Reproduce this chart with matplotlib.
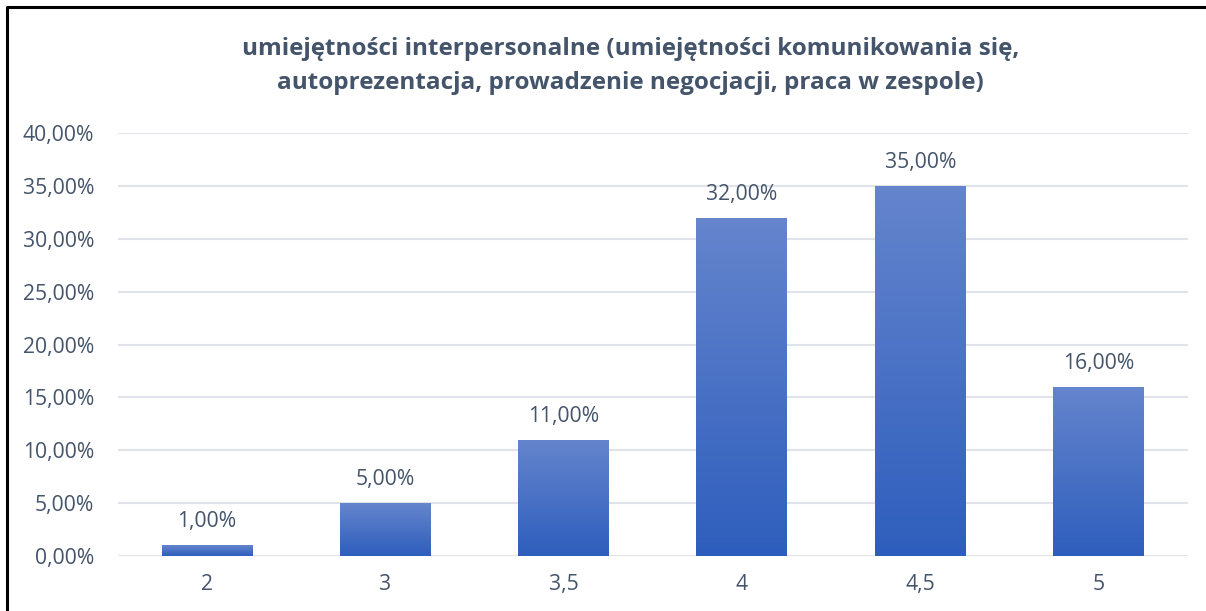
import numpy as np
import matplotlib.pyplot as plt
from matplotlib.colors import LinearSegmentedColormap
from matplotlib.lines import Line2D

categories = ["2", "3", "3,5", "4", "4,5", "5"]
values = [1.0, 5.0, 11.0, 32.0, 35.0, 16.0]
yticks = [0, 5, 10, 15, 20, 25, 30, 35, 40]
title = ("umiejętności interpersonalne (umiejętności komunikowania się,\n"
         "autoprezentacja, prowadzenie negocjacji, praca w zespole)")

txt = "#44546A"
plt.rcParams['font.family'] = ['Open Sans', 'DejaVu Sans']

fig = plt.figure(figsize=(12.06, 6.11), dpi=100)
ax = fig.add_axes([0.0978, 0.090, 0.887, 0.6923])

x = np.arange(len(categories))
bars = ax.bar(x, values, width=0.51, color="none", edgecolor="none", zorder=3)

grad = LinearSegmentedColormap.from_list("g", ["#2E5EBD", "#6585CD"])
img = np.linspace(0, 1, 256).reshape(-1, 1)
for b in bars:
    x0, y0 = b.get_x(), b.get_y()
    w, h = b.get_width(), b.get_height()
    im = ax.imshow(img, cmap=grad, origin="lower", aspect="auto",
                   extent=[x0, x0 + w, y0, y0 + h], zorder=3)
    im.set_clip_path(b)

for xi, v in zip(x, values):
    ax.annotate(f"{v:.2f}%".replace(".", ","), (xi, v), xytext=(0, 17),
                textcoords="offset points", ha="center", va="center",
                fontsize=15.2, color=txt)

ax.set_xlim(-0.5, len(categories) - 0.5)
ax.set_ylim(0, 40)
ax.set_yticks(yticks)
ax.set_yticklabels([f"{t:.2f}%".replace(".", ",") for t in yticks])
ax.set_xticks(x)
ax.set_xticklabels(categories)
ax.tick_params(length=0, labelsize=15.2, labelcolor=txt)
ax.tick_params(axis="y", pad=17)
ax.tick_params(axis="x", pad=13)
ax.yaxis.grid(True, color="#E0E4EA", linewidth=1.5, zorder=0)
ax.set_axisbelow(True)
for s in ax.spines.values():
    s.set_visible(False)

fig.text(0.523, 0.892, title, ha="center", va="center", fontsize=17.5,
         fontweight="bold", color=txt, linespacing=1.55)

# chart frame (left and top edges visible)
fig.add_artist(Line2D([0.0062, 0.0062, 1.0], [0.0, 0.988, 0.988],
                      transform=fig.transFigure, color="black", linewidth=2.2))

fig.savefig("out.png", dpi=100)
